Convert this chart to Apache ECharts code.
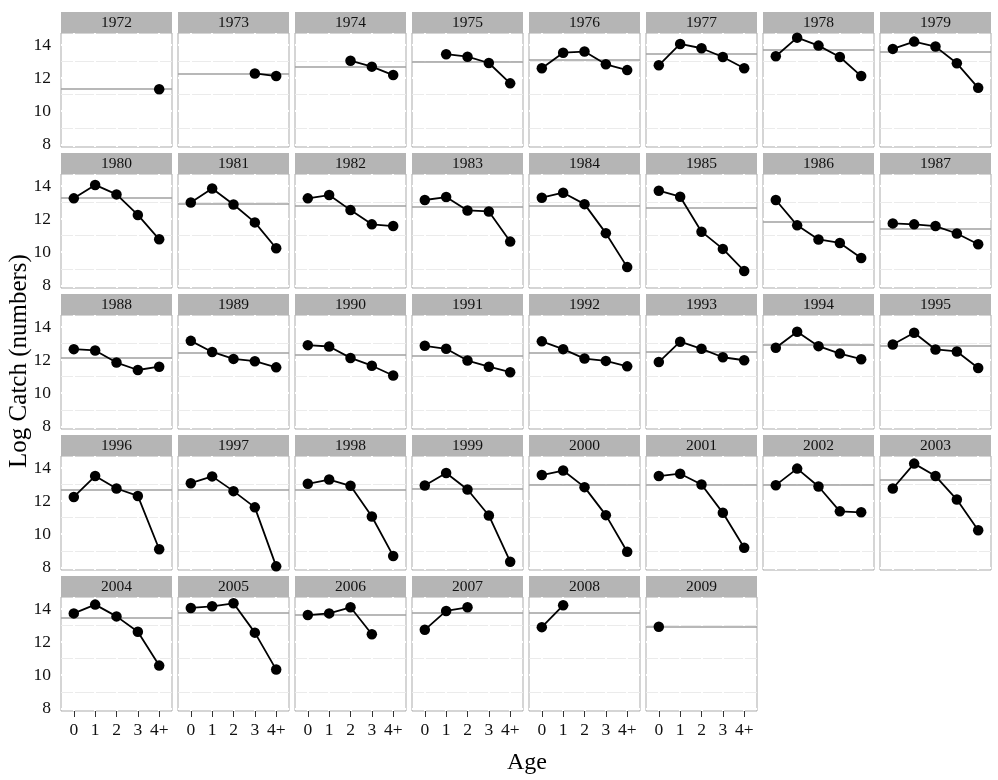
<!DOCTYPE html>
<html>
<head>
<meta charset="utf-8">
<script src="https://cdn.jsdelivr.net/npm/echarts@6/dist/echarts.min.js"></script>
<style>
html,body{margin:0;padding:0;background:#fff;}
#chart{width:998px;height:780px;}
</style>
</head>
<body>
<div id="chart"></div>
<script>
// ---- data ----
const years = [1972,1973,1974,1975,1976,1977,1978,1979,1980,1981,1982,1983,1984,1985,1986,1987,1988,1989,1990,1991,1992,1993,1994,1995,1996,1997,1998,1999,2000,2001,2002,2003,2004,2005,2006,2007,2008,2009];
const ages = ['0','1','2','3','4+'];
const age0 = [null,null,null,null,12.59,12.77,13.32,13.76,13.25,13.00,13.25,13.15,13.29,13.71,13.15,11.74,12.66,13.16,12.90,12.86,13.13,11.88,12.74,12.94,12.25,13.08,13.04,12.94,13.57,13.51,12.96,12.76,13.73,14.06,13.63,12.74,12.90,12.92];
const age1 = [null,null,null,13.44,13.53,14.06,14.44,14.20,14.06,13.84,13.45,13.33,13.59,13.35,11.62,11.68,12.58,12.49,12.82,12.68,12.66,13.11,13.71,13.65,13.51,13.49,13.30,13.69,13.84,13.65,13.96,14.26,14.26,14.16,13.73,13.88,14.22,null];
const age2 = [null,null,13.05,13.29,13.60,13.80,13.96,13.90,13.49,12.88,12.54,12.52,12.90,11.24,10.77,11.58,11.85,12.07,12.13,11.97,12.09,12.68,12.84,12.64,12.76,12.60,12.92,12.70,12.84,13.00,12.88,13.51,13.55,14.34,14.10,14.10,null,null];
const age3 = [null,12.28,12.69,12.91,12.83,13.27,13.27,12.89,12.25,11.80,11.68,12.46,11.15,10.20,10.56,11.13,11.40,11.93,11.66,11.60,11.95,12.17,12.39,12.52,12.31,11.62,11.07,11.13,11.15,11.29,11.38,12.09,12.62,12.57,12.47,null,null,null];
const age4plus = [11.32,12.12,12.18,11.68,12.48,12.59,12.12,11.41,10.78,10.24,11.58,10.64,9.10,8.87,9.65,10.48,11.60,11.56,11.07,11.27,11.62,11.99,12.05,11.52,9.09,8.06,8.69,8.34,8.94,9.18,11.32,10.24,10.58,10.34,null,null,null,null];
const meanLine = [11.33,12.24,12.71,13.01,13.13,13.47,13.68,13.58,13.29,12.92,12.80,12.76,12.82,12.70,11.86,11.40,12.17,12.43,12.33,12.25,12.43,12.49,12.92,12.86,12.66,12.70,12.66,12.74,13.00,12.96,12.98,13.27,13.47,13.77,13.63,13.76,13.76,12.92];
const yTicks = [8,10,12,14];
const yMinor = [9,11,13];

// ---- layout ----
const NCOL = 8;
const LEFT = 61, TOP = 33, PW = 111, PH = 114, DX = 117, DY = 141, STRIP = 21;
const FONT = 'Liberation Serif';
const byAge = [age0, age1, age2, age3, age4plus];
const xIdx = ages.map((a, i) => i);

const grids = [], xAxes = [], yAxes = [], series = [], graphics = [];
years.forEach((yr, i) => {
  const r = Math.floor(i / NCOL), c = i % NCOL;
  const left = LEFT + c * DX, top = TOP + r * DY;
  const isLeft = c === 0;
  const isBottom = i >= 32;
  grids.push({left: left, top: top, width: PW, height: PH, show: true,
    backgroundColor: '#ffffff', borderColor: '#ababab', borderWidth: 1});
  xAxes.push({type: 'value', gridIndex: i, min: -0.6, max: 4.6,
    axisLine: {show: false}, splitLine: {show: false},
    axisTick: {show: isBottom, customValues: xIdx, length: 6, lineStyle: {color: '#333', width: 1}},
    axisLabel: {show: isBottom, customValues: xIdx, formatter: v => ages[Math.round(v)],
      fontFamily: FONT, fontSize: 17.5, color: '#111', margin: 10}});
  yAxes.push({type: 'value', gridIndex: i, min: 7.84, max: 14.72,
    axisLine: {show: false}, splitLine: {show: false},
    axisTick: {show: isLeft, customValues: yTicks, length: 7, lineStyle: {color: '#333', width: 1}},
    axisLabel: {show: isLeft, customValues: yTicks, fontFamily: FONT, fontSize: 17.5, color: '#111', margin: 10}});
  const pts = [];
  byAge.forEach((arr, k) => { if (arr[i] !== null) pts.push([k, arr[i]]); });
  // grid lines
  series.push({type: 'line', xAxisIndex: i, yAxisIndex: i, data: pts, z: 1, silent: true,
    showSymbol: false, lineStyle: {opacity: 0},
    markLine: {z: 1, silent: true, symbol: ['none', 'none'], label: {show: false}, animation: false,
      data: [].concat(
        yMinor.map(v => ({yAxis: v, lineStyle: {color: '#ebebeb', width: 1, type: 'solid'}})),
        yTicks.map(v => ({yAxis: v, lineStyle: {color: '#ffffff', width: 2, type: 'solid'}})),
        xIdx.map(v => ({xAxis: v, lineStyle: {color: '#ffffff', width: 2, type: 'solid'}}))
      )}});
  // mean line
  series.push({type: 'line', xAxisIndex: i, yAxisIndex: i, data: pts, z: 2, silent: true,
    showSymbol: false, lineStyle: {opacity: 0},
    markLine: {z: 2, silent: true, symbol: ['none', 'none'], label: {show: false}, animation: false,
      data: [{yAxis: meanLine[i]}], lineStyle: {color: '#a0a0a0', width: 1.7, type: 'solid'}}});
  // data
  series.push({type: 'line', xAxisIndex: i, yAxisIndex: i, data: pts, z: 10,
    symbol: 'circle', symbolSize: 10.5, showAllSymbol: true,
    itemStyle: {color: '#000'}, lineStyle: {color: '#000', width: 1.8}});
  // strip
  graphics.push({type: 'rect', shape: {x: left, y: top - STRIP, width: PW, height: STRIP},
    style: {fill: '#b5b5b5'}, silent: true});
  graphics.push({type: 'text', x: left + PW / 2, y: top - STRIP / 2 + 0.5,
    style: {text: String(yr), fontFamily: FONT, fontSize: 15.5, fill: '#111', align: 'center', verticalAlign: 'middle'}, silent: true});
});
graphics.push({type: 'text', x: 19, y: 361, rotation: Math.PI / 2,
  style: {text: 'Log Catch (numbers)', fontFamily: FONT, fontSize: 25, fill: '#000', align: 'center', verticalAlign: 'middle'}});
graphics.push({type: 'text', x: 527, y: 763,
  style: {text: 'Age', fontFamily: FONT, fontSize: 24, fill: '#000', align: 'center', verticalAlign: 'middle'}});

const chart = echarts.init(document.getElementById('chart'), null, {renderer: 'canvas'});
chart.setOption({
  animation: false,
  backgroundColor: '#ffffff',
  grid: grids, xAxis: xAxes, yAxis: yAxes, series: series, graphic: graphics
});
</script>
</body>
</html>
